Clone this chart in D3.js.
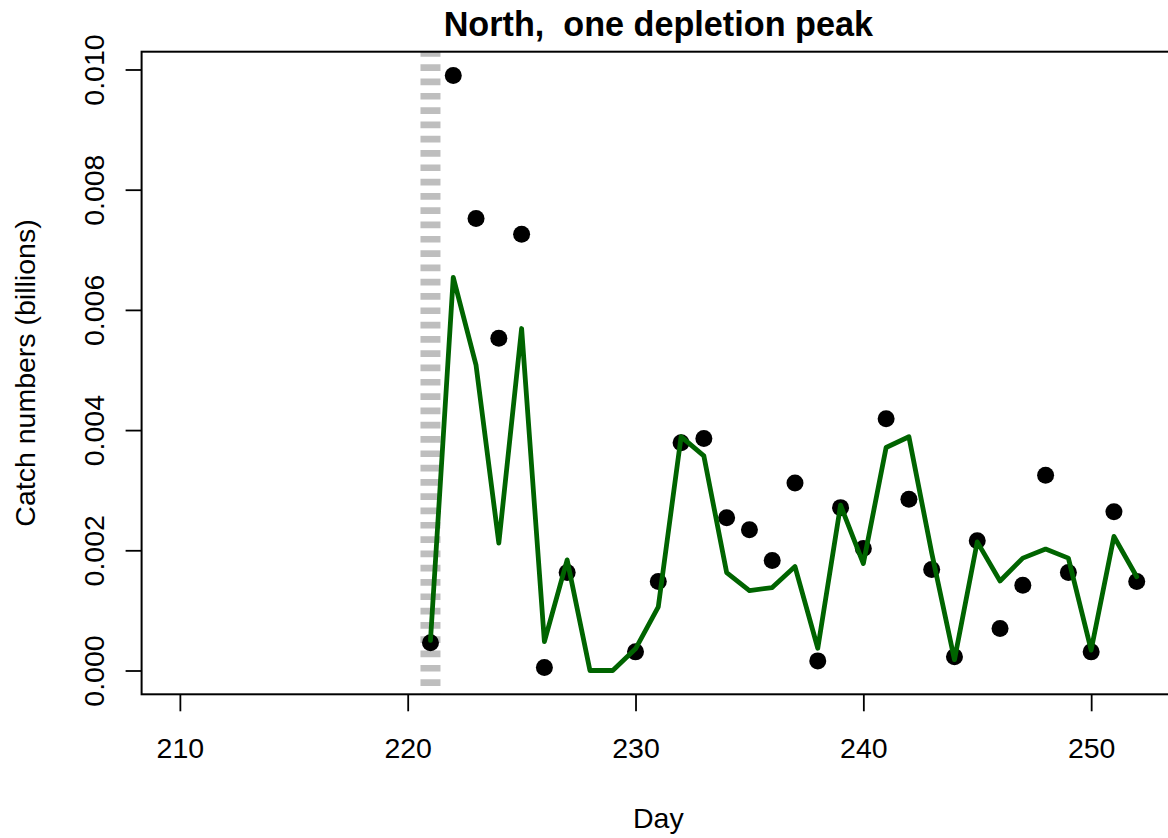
<!DOCTYPE html>
<html lang="en">
<head>
<meta charset="UTF-8">
<title>North, one depletion peak</title>
<script src="https://d3js.org/d3.v7.min.js"></script>
<style>
  body { margin: 0; background: #fff; }
  svg { display: block; font-family: "Liberation Sans", Arial, sans-serif; }
</style>
</head>
<body>
<svg width="1168" height="838"></svg>
<script>
// days of the season with catch data
const days = [221, 222, 223, 224, 225, 226, 227, 228, 229, 230, 231, 232, 233, 234, 235, 236,
              237, 238, 239, 240, 241, 242, 243, 244, 245, 246, 247, 248, 249, 250, 251, 252];
// observed catch (billions), null = no point drawn
const catchObs = [0.00046, 0.0099, 0.00752, 0.00553, 0.00726, 0.00005, 0.00163, null, null, 0.00031,
                  0.00148, 0.00379, 0.00386, 0.00254, 0.00234, 0.00183, 0.00312, 0.00016, 0.00271, 0.00203,
                  0.00419, 0.00285, 0.00168, 0.00023, 0.00216, 0.00070, 0.00142, 0.00325, 0.00163, 0.00031,
                  0.00264, 0.00148];
// fitted (predicted) catch
const catchFit = [0.00050, 0.00654, 0.00508, 0.00212, 0.00569, 0.00048, 0.00184, 0.0, 0.0, 0.00036,
                  0.00106, 0.00389, 0.00357, 0.00163, 0.00133, 0.00138, 0.00173, 0.00037, 0.00275, 0.00178,
                  0.00371, 0.00389, 0.00196, 0.00018, 0.00214, 0.00149, 0.00187, 0.00202, 0.00187, 0.00034,
                  0.00223, 0.00156];
const depletionDays = [221];
const xLimits = [210, 252];
const xTicks = [210, 220, 230, 240, 250];
const yTicks = [0, 0.002, 0.004, 0.006, 0.008, 0.010];

const svg = d3.select("svg");
const plot = { left: 141.6, right: 1175, top: 51.7, bottom: 694.3 };
const fs = 28.5;

// R style 4% padding of the axis ranges
const xPad = (xLimits[1] - xLimits[0]) * 0.04;
const x = d3.scaleLinear()
    .domain([xLimits[0] - xPad, xLimits[1] + xPad])
    .range([plot.left, plot.right]);

const yMax = d3.max(catchObs.concat(catchFit));
const yPad = yMax * 0.04;
const y = d3.scaleLinear()
    .domain([-yPad, yMax + yPad])
    .range([plot.bottom, plot.top]);

svg.append("clipPath").attr("id", "clip")
  .append("rect")
    .attr("x", plot.left).attr("y", plot.top)
    .attr("width", plot.right - plot.left).attr("height", plot.bottom - plot.top);

const g = svg.append("g").attr("clip-path", "url(#clip)");

// depletion day marker
g.selectAll(".dep")
  .data(depletionDays)
  .enter().append("line")
    .attr("class", "dep")
    .attr("x1", d => x(d)).attr("x2", d => x(d))
    .attr("y1", plot.top).attr("y2", plot.bottom)
    .attr("stroke", "#bebebe")
    .attr("stroke-width", 20)
    .attr("stroke-dasharray", "6.7 7.6")
    .attr("stroke-dashoffset", 1.7);

// observed points
const obs = days.map((d, i) => ({ day: d, v: catchObs[i] })).filter(d => d.v !== null);
g.selectAll(".pt")
  .data(obs)
  .enter().append("circle")
    .attr("class", "pt")
    .attr("cx", d => x(d.day))
    .attr("cy", d => y(d.v))
    .attr("r", 8.5)
    .attr("fill", "black");

// fitted line
const fit = days.map((d, i) => ({ day: d, v: catchFit[i] }));
g.append("path")
  .datum(fit)
  .attr("fill", "none")
  .attr("stroke", "#006400")
  .attr("stroke-width", 4.8)
  .attr("stroke-linejoin", "round")
  .attr("stroke-linecap", "round")
  .attr("d", d3.line().x(d => x(d.day)).y(d => y(d.v)));

// box
svg.append("rect")
  .attr("x", plot.left).attr("y", plot.top)
  .attr("width", plot.right - plot.left).attr("height", plot.bottom - plot.top)
  .attr("fill", "none").attr("stroke", "black").attr("stroke-width", 2);

// x axis
const xAxis = svg.append("g")
  .attr("transform", `translate(0,${plot.bottom})`)
  .call(d3.axisBottom(x).tickValues(xTicks).tickSize(17).tickPadding(0).tickFormat(d3.format("d")));
xAxis.select(".domain").remove();
xAxis.selectAll("line").attr("stroke-width", 1.8);
xAxis.selectAll("text")
  .attr("y", 64).attr("dy", 0)
  .attr("font-size", fs).attr("fill", "black");

// y axis
const yAxis = svg.append("g")
  .attr("transform", `translate(${plot.left},0)`)
  .call(d3.axisLeft(y).tickValues(yTicks).tickSize(16).tickFormat(d3.format(".3f")));
yAxis.select(".domain").remove();
yAxis.selectAll("line").attr("stroke-width", 1.8);
yAxis.selectAll("text")
  .attr("transform", "rotate(-90)")
  .attr("x", 0).attr("y", -38).attr("dy", 0)
  .attr("text-anchor", "middle")
  .attr("font-size", fs).attr("fill", "black");

// titles
svg.append("text")
  .attr("x", (plot.left + plot.right) / 2).attr("y", 36)
  .attr("text-anchor", "middle")
  .attr("font-size", 34.2).attr("font-weight", "bold")
  .style("white-space", "pre")
  .text("North,  one depletion peak");

svg.append("text")
  .attr("x", (plot.left + plot.right) / 2).attr("y", 828)
  .attr("text-anchor", "middle")
  .attr("font-size", fs)
  .text("Day");

svg.append("text")
  .attr("transform", `translate(35,${(plot.top + plot.bottom) / 2}) rotate(-90)`)
  .attr("text-anchor", "middle")
  .attr("font-size", fs)
  .text("Catch numbers (billions)");
</script>
</body>
</html>
